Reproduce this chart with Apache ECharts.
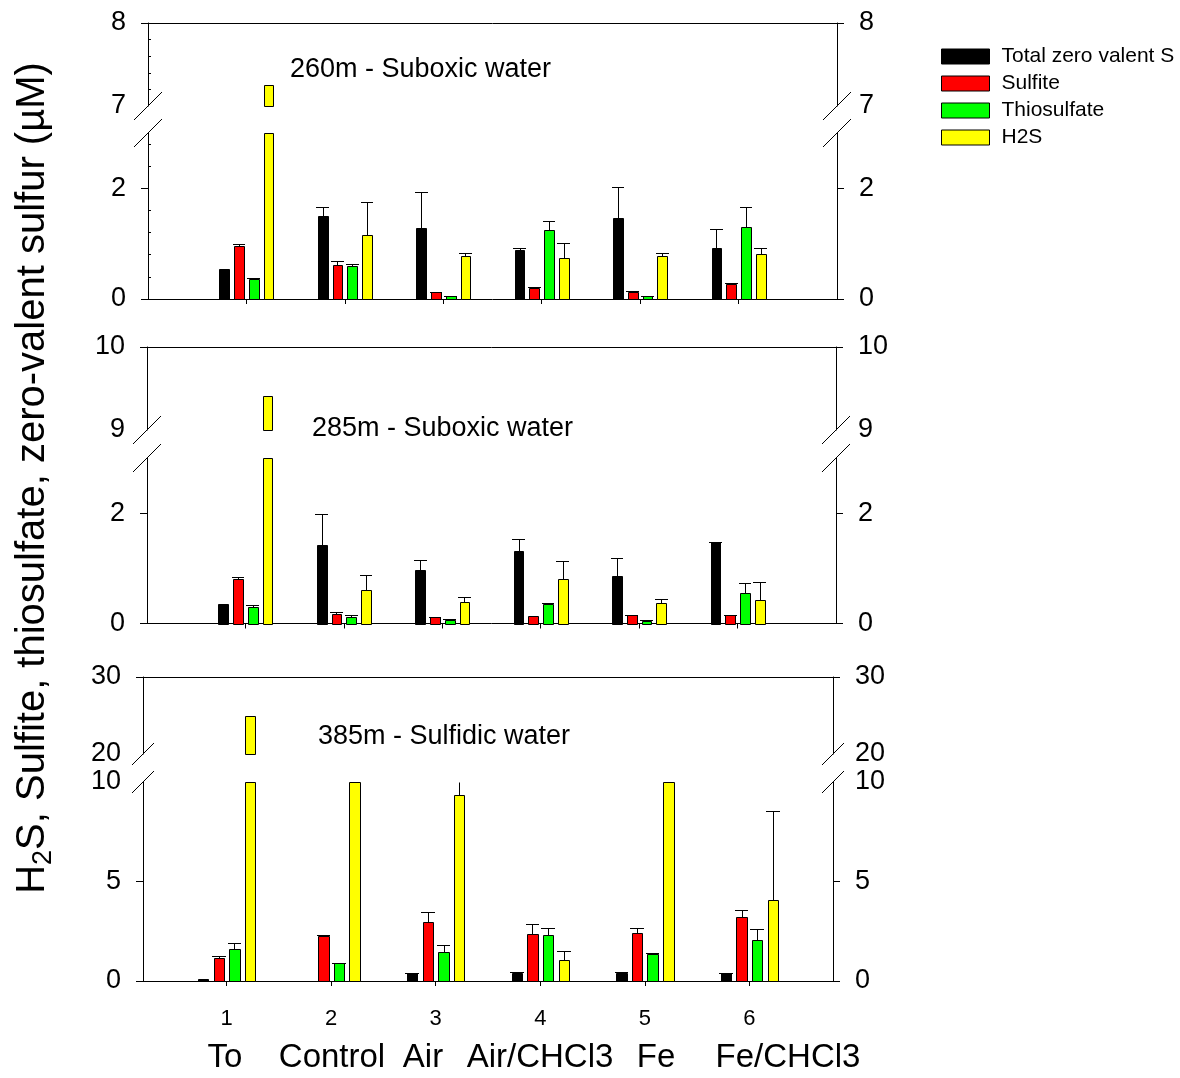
<!DOCTYPE html>
<html><head><meta charset="utf-8">
<script src="https://cdn.jsdelivr.net/npm/echarts@6/dist/echarts.min.js"></script>
<style>html,body{margin:0;padding:0;background:#fff}#c{width:1180px;height:1078px}</style>
</head><body><div id="c"></div><script>
// ---------------- DATA ----------------
const groupNums = [1, 2, 3, 4, 5, 6];
const groupNames = ['To', 'Control', 'Air', 'Air/CHCl3', 'Fe', 'Fe/CHCl3'];
const speciesNames = ['Total zero valent S', 'Sulfite', 'Thiosulfate', 'H2S'];
const panelTitles = ['260m - Suboxic water', '285m - Suboxic water', '385m - Sulfidic water'];

// 260 m
const d260_zvs     = [0.54, 1.50, 1.28, 0.89, 1.46, 0.93];
const e260_zvs     = [0, 0.17, 0.65, 0.04, 0.56, 0.34];
const d260_sulfite = [0.95, 0.61, 0.12, 0.19, 0.12, 0.28];
const e260_sulfite = [0.04, 0.08, 0.01, 0.03, 0.03, 0.01];
const d260_thio    = [0.37, 0.60, 0.05, 1.25, 0.05, 1.31];
const e260_thio    = [0.01, 0.03, 0.005, 0.16, 0.005, 0.36];
const d260_h2s     = [7.25, 1.15, 0.77, 0.74, 0.77, 0.81];
const e260_h2s     = [0, 0.61, 0.06, 0.28, 0.06, 0.11];
// 285 m
const d285_zvs     = [0.35, 1.42, 0.97, 1.32, 0.87, 1.48];
const e285_zvs     = [0, 0.56, 0.19, 0.21, 0.31, 0.005];
const d285_sulfite = [0.80, 0.17, 0.12, 0.14, 0.15, 0.15];
const e285_sulfite = [0.05, 0.04, 0.005, 0, 0.01, 0.01];
const d285_thio    = [0.30, 0.11, 0.06, 0.345, 0.05, 0.56];
const e285_thio    = [0.03, 0.04, 0.02, 0.02, 0.01, 0.17];
const d285_h2s     = [9.41, 0.61, 0.39, 0.81, 0.38, 0.42];
const e285_h2s     = [0, 0.27, 0.09, 0.33, 0.07, 0.34];
// 385 m
const d385_zvs     = [0.10, 0, 0.38, 0.38, 0.38, 0.42];
const e385_zvs     = [0, 0, 0.005, 0.09, 0.07, 0.005];
const d385_sulfite = [1.18, 2.28, 2.97, 2.37, 2.42, 3.23];
const e385_sulfite = [0.10, 0.02, 0.48, 0.50, 0.23, 0.32];
const d385_thio    = [1.62, 0.88, 1.47, 2.32, 1.38, 2.07];
const e385_thio    = [0.30, 0.04, 0.33, 0.33, 0.04, 0.56];
const d385_h2s     = [25.0, 15.0, 9.35, 1.07, 15.0, 4.08];
const e385_h2s     = [0, 0, 1.5, 0.46, 0, 4.45];

// axis segments (broken axes) and tick labels
const yRange260Upper = [7, 8],   yRange260Lower = [0, 3];
const yRange285Upper = [9, 10],  yRange285Lower = [0, 3];
const yRange385Upper = [20, 30], yRange385Lower = [0, 10];
const yTicks260Upper = [7, 8],   yTicks260Lower = [0, 2];
const yTicks285Upper = [9, 10],  yTicks285Lower = [0, 2];
const yTicks385Upper = [20, 30], yTicks385Lower = [0, 5, 10];
const yMinor260Upper = [7.2, 7.4, 7.6, 7.8];
const yMinor260Lower = [0.4, 0.8, 1.2, 1.6, 2.4, 2.8];

// ---------------- STYLE / LAYOUT ----------------
const FONT = "'Liberation Sans', Arial, Helvetica, sans-serif";
const speciesColors = ['#000000', '#ff0000', '#00ff00', '#ffff00'];
const BAR_W = 0.1;
const OFFSETS = [-0.225, -0.075, 0.075, 0.225];
const CAP_HALF = 0.065;
const layout = [
  {left: 148, width: 689, upTop: 23,  upH: 83, loTop: 133, loH: 166,   xMin: 0,   xMax: 7,   mark: 14, titleX: 290, titleY: 70},
  {left: 147, width: 689, upTop: 347, upH: 83, loTop: 458, loH: 165.5, xMin: 0,   xMax: 7,   mark: 14, titleX: 312, titleY: 429},
  {left: 143, width: 690, upTop: 677, upH: 77, loTop: 782, loH: 199,   xMin: 0.2, xMax: 6.8, mark: 11, titleX: 318, titleY: 737}
];
const nameX = [225, 332, 423, 540, 656, 788];
const nameY = 1058;

const panels = [
  {vals: [d260_zvs, d260_sulfite, d260_thio, d260_h2s], errs: [e260_zvs, e260_sulfite, e260_thio, e260_h2s],
   up: yRange260Upper, lo: yRange260Lower, upT: yTicks260Upper, loT: yTicks260Lower},
  {vals: [d285_zvs, d285_sulfite, d285_thio, d285_h2s], errs: [e285_zvs, e285_sulfite, e285_thio, e285_h2s],
   up: yRange285Upper, lo: yRange285Lower, upT: yTicks285Upper, loT: yTicks285Lower},
  {vals: [d385_zvs, d385_sulfite, d385_thio, d385_h2s], errs: [e385_zvs, e385_sulfite, e385_thio, e385_h2s],
   up: yRange385Upper, lo: yRange385Lower, upT: yTicks385Upper, loT: yTicks385Lower}
];

function barRender(offset, segMin, segMax) {
  return function (params, api) {
    const gx = api.value(0), v = api.value(1), e = api.value(2);
    if (!(v > segMin)) return null;
    const top = Math.min(v, segMax);
    const pl = api.coord([gx + offset - BAR_W / 2, segMin]);
    const pr = api.coord([gx + offset + BAR_W / 2, top]);
    const x0 = Math.round(pl[0]) + 0.5, x1 = Math.round(pr[0]) + 0.5;
    const yb = Math.round(pl[1]) + 0.5, yt = Math.round(pr[1]) + 0.5;
    const children = [{
      type: 'rect', shape: {x: x0, y: yt, width: x1 - x0, height: yb - yt},
      style: {fill: api.visual('color'), stroke: '#000', lineWidth: 1}
    }];
    if (e > 0 && v < segMax) {
      const eTop = Math.min(v + e, segMax);
      const pc = api.coord([gx + offset, eTop]);
      const xc = Math.round(pc[0]) + 0.5, ye = Math.round(pc[1]) + 0.5;
      children.push({type: 'line', shape: {x1: xc, y1: yt, x2: xc, y2: ye}, style: {stroke: '#000', lineWidth: 1}});
      if (v + e <= segMax) {
        const cl = api.coord([gx + offset - CAP_HALF, eTop]);
        const cr = api.coord([gx + offset + CAP_HALF, eTop]);
        children.push({type: 'line', shape: {x1: Math.round(cl[0]), y1: ye, x2: Math.round(cr[0]), y2: ye}, style: {stroke: '#000', lineWidth: 1}});
      }
    }
    return {type: 'group', children};
  };
}

const grid = [], xAxis = [], yAxis = [], series = [], graphic = [];
const lineStyle = {color: '#000', width: 1};
const labelStyle = {color: '#000', fontFamily: FONT, fontSize: 27};

panels.forEach((p, i) => {
  const L = layout[i];
  const segs = [
    {top: L.upTop, h: L.upH, range: p.up, labels: p.upT, ticks: p.upT.filter(t => t !== p.up[0]), xpos: 'top'},
    {top: L.loTop, h: L.loH, range: p.lo, labels: p.loT, ticks: p.loT.filter(t => t !== p.lo[1]), xpos: 'bottom'}
  ];
  segs.forEach((s, j) => {
    const g = grid.length;
    grid.push({left: L.left, top: s.top, width: L.width, height: s.h, containLabel: false});
    const isBottom = (i === 2 && j === 1);
    xAxis.push({
      type: 'value', gridIndex: g, min: L.xMin, max: L.xMax, position: s.xpos,
      axisLine: {show: true, onZero: false, lineStyle},
      axisTick: {show: j === 1, customValues: groupNums, length: 5, lineStyle},
      axisLabel: {show: isBottom, customValues: groupNums, margin: 27, color: '#000', fontFamily: FONT, fontSize: 22,
                  formatter: v => String(v)},
      splitLine: {show: false}
    });
    ['left', 'right'].forEach(pos => {
      yAxis.push({
        type: 'value', gridIndex: g, min: s.range[0], max: s.range[1], position: pos,
        axisLine: {show: true, onZero: false, lineStyle},
        axisTick: {show: true, customValues: s.ticks, length: 7, lineStyle},
        axisLabel: Object.assign({show: true, customValues: s.labels, margin: 22, formatter: v => String(v)}, labelStyle),
        splitLine: {show: false}
      });
    });
    const yIdx = yAxis.length - 2;
    p.vals.forEach((vals, k) => {
      series.push({
        type: 'custom', name: speciesNames[k], coordinateSystem: 'cartesian2d',
        xAxisIndex: g, yAxisIndex: yIdx,
        itemStyle: {color: speciesColors[k], borderColor: '#000', borderWidth: 1},
        encode: {x: 0, y: 1},
        data: groupNums.map((n, q) => [n, vals[q], p.errs[k][q]]),
        renderItem: barRender(OFFSETS[k], s.range[0], s.range[1]),
        silent: true
      });
    });
  });
  // break marks
  const m = L.mark;
  [L.left, L.left + L.width].forEach(ax => {
    [L.upTop + L.upH, L.loTop].forEach(cy => {
      graphic.push({type: 'line', shape: {x1: ax - m, y1: cy + m, x2: ax + m, y2: cy - m},
                    style: {stroke: '#000', lineWidth: 1}, silent: true});
    });
  });
  graphic.push({type: 'text', x: L.titleX, y: L.titleY,
    style: {text: panelTitles[i], fill: '#000', fontFamily: FONT, fontSize: 27, align: 'left', verticalAlign: 'middle',
            textAlign: 'left', textVerticalAlign: 'middle'}});
});

// minor ticks (inside) for top panel
[[layout[0].upTop, layout[0].upH, yRange260Upper, yMinor260Upper],
 [layout[0].loTop, layout[0].loH, yRange260Lower, yMinor260Lower]].forEach(([top, h, range, minor]) => {
  const g = grid.length;
  grid.push({left: layout[0].left, top, width: layout[0].width, height: h});
  xAxis.push({type: 'value', gridIndex: g, min: 0, max: 7, show: false});
  yAxis.push({type: 'value', gridIndex: g, min: range[0], max: range[1], position: 'left',
    axisLine: {show: false, onZero: false},
    axisTick: {show: true, inside: true, customValues: minor, length: 3, lineStyle},
    axisLabel: {show: false}, splitLine: {show: false}});
});

// category names
groupNames.forEach((n, k) => {
  graphic.push({type: 'text', x: nameX[k], y: nameY,
    style: {text: n, fill: '#000', fontFamily: FONT, fontSize: 33, align: 'center', verticalAlign: 'middle',
            textAlign: 'center', textVerticalAlign: 'middle'}});
});

// y axis title
graphic.push({type: 'text', x: 33, y: 478, rotation: Math.PI / 2,
  style: {
    text: '{m|H}{s|2}{m|S, Sulfite, thiosulfate, zero-valent sulfur (\u00b5M)}',
    fill: '#000', align: 'center', verticalAlign: 'middle', textAlign: 'center', textVerticalAlign: 'middle',
    rich: {
      m: {fontFamily: FONT, fontSize: 40, lineHeight: 48, verticalAlign: 'middle', fill: '#000', color: '#000'},
      s: {fontFamily: FONT, fontSize: 27, lineHeight: 27, verticalAlign: 'bottom', fill: '#000', color: '#000'}
    }
  }});

const chart = echarts.init(document.getElementById('c'), null, {renderer: 'canvas'});
chart.setOption({
  animation: false,
  backgroundColor: '#fff',
  grid, xAxis, yAxis, series, graphic,
  legend: {
    orient: 'vertical', left: 941, top: 46, itemWidth: 48, itemHeight: 15, itemGap: 6, padding: 0,
    icon: 'rect', data: speciesNames, selectedMode: false,
    itemStyle: {borderColor: '#000', borderWidth: 1},
    textStyle: {color: '#000', fontFamily: FONT, fontSize: 21, padding: [0, 0, 0, 7]}
  }
});
</script></body></html>
